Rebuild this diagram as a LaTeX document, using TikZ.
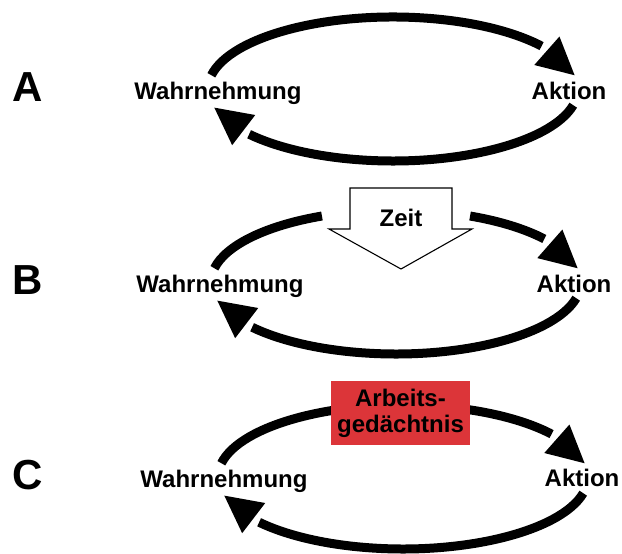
\documentclass[tikz,border=0pt]{standalone}
\usepackage{fontspec}
\setmainfont{Liberation Sans}
\usetikzlibrary{arrows.meta,bending}
\definecolor{boxrot}{HTML}{DC3539}
\tikzset{
	schleife/.style={line width=9pt},
	pfeil/.style={schleife, -{Triangle[length=37pt,width=38pt,line width=0pt,flex]}},
	wort/.style={font=\bfseries\fontsize{24}{26}\selectfont, inner sep=0pt, anchor=base},
	buchstabe/.style={font=\bfseries\fontsize{42}{44}\selectfont, inner sep=0pt, anchor=base},
	zeitpfeil/.style={draw, fill=white, line width=1.1pt, line join=miter},
	kasten/.style={fill=boxrot, minimum width=139pt, minimum height=64pt, inner sep=0pt, align=center, font=\bfseries\fontsize{24}{26}\selectfont}
}

\begin{document}
\begin{tikzpicture}[x=1pt,y=1pt]
	\useasboundingbox (0,0) rectangle (622,554);

	\coordinate (mA) at (393,465);
	\node [buchstabe] (A) at (28,452) {A};
	\node [wort] (wA) at (218,454) {Wahrnehmung};
	\node [wort] (aA) at (569,454) {Aktion};
	\draw [pfeil] ([shift={(169:185pt and 72pt)}]mA) arc [start angle=169, end angle=11, x radius=185pt, y radius=72pt];
	\draw [pfeil] ([shift={(-13:185pt and 72pt)}]mA) arc [start angle=-13, end angle=-165, x radius=185pt, y radius=72pt];

	\coordinate (mB) at (396,272);
	\node [buchstabe] (B) at (28,259) {B};
	\node [wort] (wB) at (220,261) {Wahrnehmung};
	\node [wort] (aB) at (574,261) {Aktion};
	\draw [schleife] ([shift={(169:185pt and 72pt)}]mB) arc [start angle=169, end angle=113.6, x radius=185pt, y radius=72pt];
	\draw [pfeil] ([shift={(66.4:185pt and 72pt)}]mB) arc [start angle=66.4, end angle=11, x radius=185pt, y radius=72pt];
	\draw [pfeil] ([shift={(-13:185pt and 72pt)}]mB) arc [start angle=-13, end angle=-165, x radius=185pt, y radius=72pt];
	\draw [zeitpfeil] (350,366) -- (452,366) -- (452,325) -- (472,325) -- (401,285) -- (329,325) -- (350,325) -- cycle;
	\node [wort] (zeit) at (401,327) {Zeit};

	\coordinate (mC) at (403,77);
	\node [buchstabe] (C) at (28,64) {C};
	\node [wort] (wC) at (224,66) {Wahrnehmung};
	\node [wort] (aC) at (582,67) {Aktion};
	\draw [pfeil] ([shift={(169:185pt and 72pt)}]mC) arc [start angle=169, end angle=11, x radius=185pt, y radius=72pt];
	\draw [pfeil] ([shift={(-13:185pt and 72pt)}]mC) arc [start angle=-13, end angle=-165, x radius=185pt, y radius=72pt];
	\node [kasten] (ag) at (400.5,141) {Arbeits-\\ged\"achtnis};
\end{tikzpicture}
\end{document}
